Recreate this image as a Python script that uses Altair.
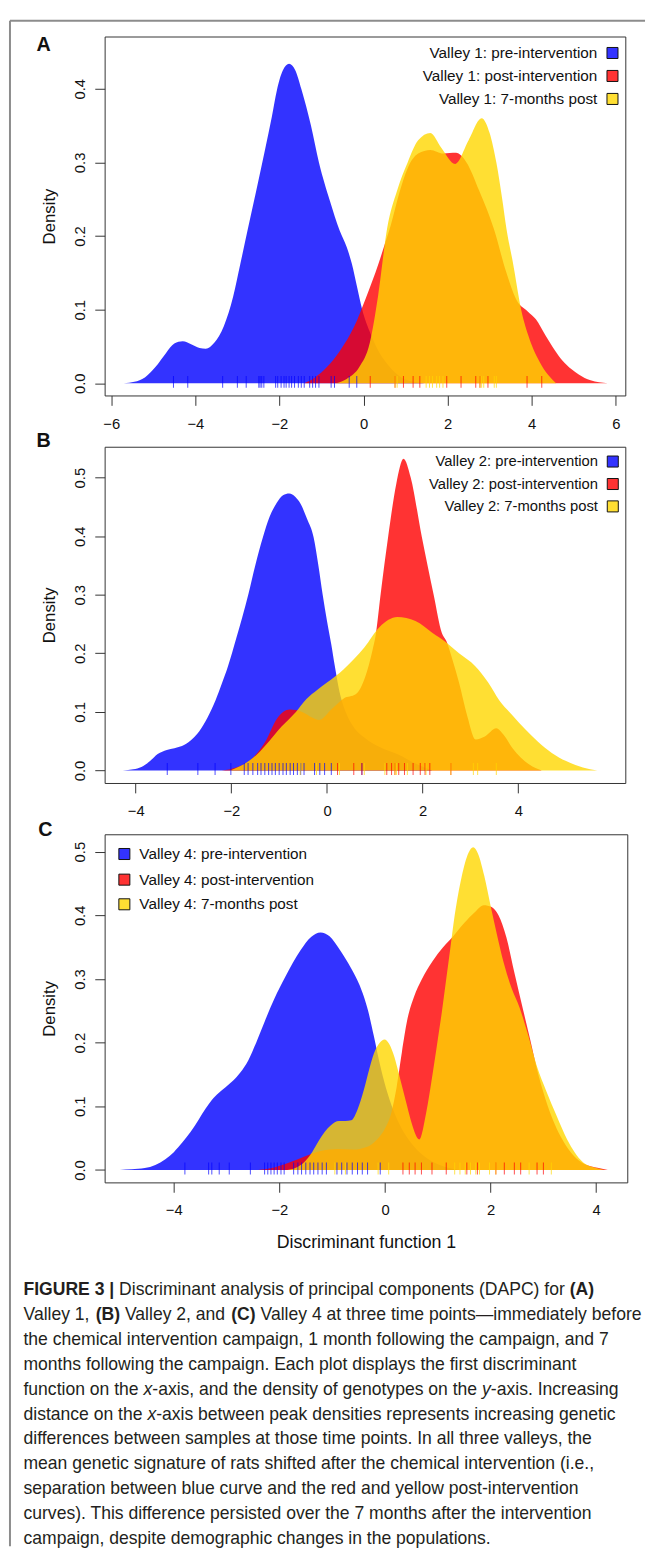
import altair as alt
import pandas as pd

# ---------------- Panel A : Valley 1 ----------------
A_BLUE_X = [-5.70, -5.45, -5.20, -4.95, -4.70, -4.50, -4.30, -4.10, -3.90, -3.75, -3.55, -3.32, -3.10,
            -2.93, -2.75, -2.55, -2.34, -2.18, -2.06, -1.92, -1.77, -1.62, -1.48, -1.25, -1.06, -0.80,
            -0.57, -0.40, -0.28, -0.15, -0.03, 0.15, 0.30, 0.60, 0.90, 1.20, 1.45]
A_BLUE_Y = [0.000, 0.002, 0.008, 0.022, 0.041, 0.054, 0.057, 0.053, 0.048, 0.047, 0.055, 0.078, 0.118,
            0.162, 0.210, 0.262, 0.318, 0.362, 0.398, 0.425, 0.434, 0.425, 0.400, 0.350, 0.300, 0.248,
            0.208, 0.185, 0.163, 0.130, 0.100, 0.070, 0.050, 0.024, 0.008, 0.002, 0.000]
A_RED_X = [-1.41, -1.15, -0.87, -0.55, -0.23, 0.05, 0.36, 0.50, 0.65, 0.85, 1.05, 1.30, 1.59, 1.90,
           2.20, 2.45, 2.75, 3.10, 3.40, 3.65, 3.90, 4.10, 4.33, 4.55, 4.73, 4.95, 5.12, 5.40, 5.81]
A_RED_Y = [0.000, 0.008, 0.022, 0.045, 0.076, 0.115, 0.163, 0.188, 0.215, 0.258, 0.292, 0.312, 0.317,
           0.312, 0.313, 0.300, 0.262, 0.210, 0.150, 0.112, 0.098, 0.087, 0.065, 0.045, 0.031, 0.019,
           0.012, 0.004, 0.000]
A_YEL_X = [-0.67, -0.40, -0.10, 0.15, 0.35, 0.56, 0.80, 1.05, 1.30, 1.59, 1.85, 2.18, 2.50, 2.81, 3.00,
           3.16, 3.30, 3.40, 3.55, 3.75, 3.95, 4.20, 4.58]
A_YEL_Y = [0.000, 0.006, 0.022, 0.055, 0.120, 0.210, 0.262, 0.300, 0.330, 0.340, 0.320, 0.298, 0.330,
           0.360, 0.340, 0.300, 0.250, 0.210, 0.165, 0.100, 0.060, 0.028, 0.000]
A_RUG_BLUE = [-4.52, -4.18, -3.35, -3.00, -2.79, -2.49, -2.46, -2.42, -2.37, -2.09, -2.04, -1.96, -1.89,
              -1.84, -1.77, -1.71, -1.64, -1.55, -1.48, -1.41, -1.28, -1.21, -1.14, -1.06, -0.77, -0.69,
              -0.34, -0.16]
A_RUG_RED = [0.16, 0.75, 0.95, 1.18, 1.34, 1.98, 2.32, 2.67, 2.77, 2.96, 3.89, 4.24]
A_RUG_YEL = [0.75, 0.80, 1.49, 1.57, 1.64, 1.74, 1.81, 1.89, 2.77, 2.81, 2.86, 3.11, 3.16]
A_LABELS = ["Valley 1: pre-intervention", "Valley 1: post-intervention", "Valley 1: 7-months post"]
A_XTICKS = [-6, -4, -2, 0, 2, 4, 6]
A_YTICKS = [0.0, 0.1, 0.2, 0.3, 0.4]

# ---------------- Panel B : Valley 2 ----------------
B_BLUE_X = [-4.27, -4.05, -3.88, -3.70, -3.54, -3.35, -3.19, -2.98, -2.80, -2.67, -2.50, -2.33, -2.20,
            -2.07, -1.90, -1.77, -1.64, -1.50, -1.34, -1.20, -1.05, -0.92, -0.79, -0.66, -0.55, -0.42,
            -0.28, -0.18, -0.09, 0.00, 0.09, 0.16, 0.26, 0.40, 0.55, 0.80, 1.10, 1.50, 1.85, 2.20]
B_BLUE_Y = [0.000, 0.002, 0.006, 0.016, 0.028, 0.035, 0.038, 0.044, 0.055, 0.067, 0.090, 0.120, 0.148,
            0.178, 0.225, 0.262, 0.302, 0.350, 0.398, 0.433, 0.457, 0.470, 0.473, 0.467, 0.455, 0.430,
            0.398, 0.350, 0.300, 0.255, 0.215, 0.180, 0.135, 0.098, 0.075, 0.055, 0.040, 0.027, 0.012,
            0.000]
B_RED_X = [-2.20, -1.90, -1.60, -1.29, -1.04, -0.78, -0.52, -0.30, -0.17, 0.10, 0.35, 0.60, 0.80, 0.95,
           1.02, 1.12, 1.28, 1.45, 1.60, 1.75, 1.98, 2.23, 2.40, 2.50, 2.62, 2.76, 2.93, 3.11, 3.30,
           3.54, 3.70, 3.88, 4.05, 4.23, 4.49]
B_RED_Y = [0.000, 0.005, 0.018, 0.049, 0.089, 0.104, 0.100, 0.090, 0.086, 0.105, 0.123, 0.130, 0.160,
           0.205, 0.232, 0.300, 0.400, 0.490, 0.532, 0.500, 0.400, 0.300, 0.235, 0.220, 0.190, 0.150,
           0.094, 0.053, 0.058, 0.072, 0.060, 0.038, 0.022, 0.010, 0.000]
B_YEL_X = [-2.03, -1.75, -1.47, -1.21, -0.95, -0.65, -0.43, -0.20, 0.00, 0.35, 0.78, 1.10, 1.47, 1.85,
           2.20, 2.50, 2.76, 3.10, 3.37, 3.60, 3.88, 4.15, 4.40, 4.70, 5.00, 5.35, 5.65]
B_YEL_Y = [0.000, 0.010, 0.027, 0.050, 0.075, 0.100, 0.122, 0.138, 0.150, 0.173, 0.210, 0.245, 0.262,
           0.255, 0.235, 0.218, 0.200, 0.178, 0.150, 0.120, 0.094, 0.070, 0.050, 0.030, 0.016, 0.005,
           0.000]
B_RUG_BLUE = [-3.34, -2.70, -2.34, -2.01, -1.73, -1.65, -1.55, -1.45, -1.38, -1.30, -1.22, -1.15, -1.08,
              -1.00, -0.92, -0.85, -0.77, -0.70, -0.62, -0.55, -0.48, -0.26, -0.15, -0.05, 0.09, 0.73]
B_RUG_RED = [0.22, 0.56, 0.73, 1.25, 1.35, 1.42, 1.50, 1.62, 1.80, 1.95, 2.05, 2.15, 2.59]
B_RUG_YEL = [-0.56, -0.22, 0.26, 0.78, 1.21, 1.42, 1.45, 1.68, 2.07, 2.59, 3.06, 3.15, 3.54]
B_LABELS = ["Valley 2: pre-intervention", "Valley 2: post-intervention", "Valley 2: 7-months post"]
B_XTICKS = [-4, -2, 0, 2, 4]
B_YTICKS = [0.0, 0.1, 0.2, 0.3, 0.4, 0.5]

# ---------------- Panel C : Valley 4 ----------------
C_BLUE_X = [-5.02, -4.80, -4.55, -4.35, -4.16, -4.00, -3.84, -3.68, -3.53, -3.40, -3.28, -3.15, -3.02,
            -2.88, -2.74, -2.59, -2.44, -2.28, -2.10, -1.89, -1.60, -1.40, -1.22, -1.05, -0.85, -0.65,
            -0.48, -0.32, -0.21, -0.08, 0.05, 0.20, 0.35, 0.55, 0.80, 1.10, 1.40]
C_BLUE_Y = [0.000, 0.001, 0.003, 0.008, 0.017, 0.028, 0.043, 0.060, 0.079, 0.096, 0.110, 0.121, 0.130,
            0.140, 0.153, 0.172, 0.200, 0.233, 0.268, 0.303, 0.345, 0.366, 0.373, 0.367, 0.345, 0.318,
            0.290, 0.250, 0.210, 0.160, 0.120, 0.085, 0.060, 0.037, 0.018, 0.006, 0.000]
C_RED_X = [-2.40, -2.10, -1.80, -1.50, -1.20, -0.90, -0.60, -0.35, -0.15, 0.00, 0.12, 0.22, 0.32, 0.42,
           0.55, 0.70, 0.90, 1.10, 1.30, 1.50, 1.70, 1.87, 2.02, 2.15, 2.30, 2.45, 2.62, 2.75, 2.88,
           3.00, 3.15, 3.43, 3.74, 4.05, 4.22]
C_RED_Y = [0.000, 0.004, 0.012, 0.022, 0.030, 0.033, 0.032, 0.036, 0.048, 0.065, 0.090, 0.130, 0.185,
           0.235, 0.272, 0.300, 0.328, 0.350, 0.368, 0.388, 0.405, 0.416, 0.413, 0.400, 0.365, 0.310,
           0.250, 0.205, 0.158, 0.122, 0.085, 0.038, 0.011, 0.003, 0.000]
C_YEL_X = [-1.85, -1.65, -1.50, -1.38, -1.26, -1.14, -1.03, -0.87, -0.75, -0.64, -0.52, -0.40, -0.30,
           -0.21, -0.10, -0.01, 0.08, 0.18, 0.26, 0.34, 0.42, 0.50, 0.65, 0.78, 0.90, 1.00, 1.08, 1.16,
           1.24, 1.32, 1.45, 1.58, 1.67, 1.76, 1.88, 2.00, 2.12, 2.25, 2.40, 2.55, 2.70, 2.88, 3.05,
           3.25, 3.45, 3.74, 4.00, 4.15]
C_YEL_Y = [0.000, 0.005, 0.015, 0.028, 0.045, 0.060, 0.070, 0.077, 0.077, 0.078, 0.095, 0.126, 0.158,
           0.183, 0.200, 0.205, 0.198, 0.177, 0.152, 0.126, 0.100, 0.075, 0.048, 0.090, 0.150, 0.205,
           0.250, 0.300, 0.350, 0.400, 0.460, 0.498, 0.507, 0.497, 0.462, 0.415, 0.370, 0.325, 0.285,
           0.255, 0.215, 0.162, 0.125, 0.085, 0.048, 0.013, 0.003, 0.000]
C_RUG_BLUE = [-3.79, -3.34, -3.28, -3.14, -2.95, -2.55, -2.28, -2.22, -2.16, -2.10, -2.04, -1.97, -1.91,
              -1.73, -1.65, -1.58, -1.50, -1.42, -1.35, -1.27, -1.19, -1.11, -0.91, -0.82, -0.72, -0.62,
              -0.52, -0.43, -0.33, -0.09]
C_RUG_RED = [0.34, 0.46, 0.57, 0.69, 0.89, 1.16, 1.55, 1.75, 2.10, 2.26, 2.45, 2.57, 2.88, 3.00]
C_RUG_YEL = [-0.95, -0.75, -0.13, 0.07, 1.32, 1.42, 1.52, 1.62, 1.72, 1.79, 1.98, 2.10, 2.73, 3.15]
C_LABELS = ["Valley 4: pre-intervention", "Valley 4: post-intervention", "Valley 4: 7-months post"]
C_XTICKS = [-4, -2, 0, 2, 4]
C_YTICKS = [0.0, 0.1, 0.2, 0.3, 0.4, 0.5]

X_TITLE = "Discriminant function 1"
Y_TITLE = "Density"

CAPTION = [
    [("FIGURE 3 |", "b"), (" Discriminant analysis of principal components (DAPC) for ", "r"), ("(A)", "b")],
    [("Valley 1, ", "r"), ("(B)", "b"), (" Valley 2, and ", "r"), ("(C)", "b"),
     (" Valley 4 at three time points\u2014immediately before", "r")],
    [("the chemical intervention campaign, 1 month following the campaign, and 7", "r")],
    [("months following the campaign. Each plot displays the first discriminant", "r")],
    [("function on the ", "r"), ("x", "i"), ("-axis, and the density of genotypes on the ", "r"), ("y", "i"),
     ("-axis. Increasing", "r")],
    [("distance on the ", "r"), ("x", "i"), ("-axis between peak densities represents increasing genetic", "r")],
    [("differences between samples at those time points. In all three valleys, the", "r")],
    [("mean genetic signature of rats shifted after the chemical intervention (i.e.,", "r")],
    [("separation between blue curve and the red and yellow post-intervention", "r")],
    [("curves). This difference persisted over the 7 months after the intervention", "r")],
    [("campaign, despite demographic changes in the populations.", "r")],
]

# ---------------- styling ----------------
FONT = "Liberation Sans"
SERIES = ["pre", "post", "seven"]
COLORS = ["#0000FF", "#FF0000", "#FFD700"]
INK = "#111111"

REG = {' ': 278, ',': 278, '.': 278, ':': 278, ';': 278, '(': 333, ')': 333, '-': 333, '|': 260,
       '\u2014': 1000, '0': 556, '1': 556, '2': 556, '3': 556, '4': 556, '5': 556, '6': 556, '7': 556,
       '8': 556, '9': 556, 'A': 667, 'B': 667, 'C': 722, 'D': 722, 'E': 667, 'F': 611, 'G': 778,
       'I': 278, 'P': 667, 'R': 722, 'T': 611, 'U': 722, 'V': 667,
       'a': 556, 'b': 556, 'c': 500, 'd': 556, 'e': 556, 'f': 278, 'g': 556, 'h': 556, 'i': 222,
       'j': 222, 'k': 500, 'l': 222, 'm': 833, 'n': 556, 'o': 556, 'p': 556, 'q': 556, 'r': 333,
       's': 500, 't': 278, 'u': 556, 'v': 500, 'w': 722, 'x': 500, 'y': 500, 'z': 500}
BOLD = {' ': 278, '(': 333, ')': 333, '|': 280, '3': 556, 'A': 722, 'B': 722, 'C': 722, 'E': 667,
        'F': 611, 'G': 778, 'I': 278, 'R': 722, 'U': 722}


def text_w(s, style, fs):
    table = BOLD if style == "b" else REG
    return sum(table.get(ch, 556) for ch in s) * fs / 1000.0


ONE = pd.DataFrame({"k": [0]})


def fixed_text(txt, x, y, **kw):
    return alt.Chart(ONE).mark_text(text=txt, font=FONT, **kw).encode(x=alt.value(x), y=alt.value(y))


def make_panel(curves, rugs, xdom, xticks, ydom, yticks, w, h, labels, legend, letter, letter_xy,
               xtitle=None, extra=None):
    xaxis = alt.Axis(values=xticks, title=xtitle, domain=False, grid=False, tickSize=10, tickColor="#333",
                     labelFontSize=15, labelPadding=11, labelFlush=False,
                     labelExpr="replace(datum.label, '-', '\u2212')",
                     titleFontSize=18, titleFontWeight="normal", titlePadding=16)
    yaxis = alt.Axis(values=yticks, format=".1f", title=Y_TITLE, domain=False, grid=False, tickSize=10,
                     tickColor="#333", labelFontSize=15, labelAngle=270, labelAlign="center",
                     labelBaseline="bottom", labelPadding=7, labelFlush=False,
                     titleFontSize=17, titleFontWeight="normal", titlePadding=15)
    xenc = alt.X("x:Q", scale=alt.Scale(domain=xdom, nice=False, zero=False), axis=xaxis)
    yenc = alt.Y("y:Q", scale=alt.Scale(domain=ydom, nice=False, zero=False), axis=yaxis)

    layers = []
    for (xs, ys), col in zip(curves, COLORS):
        layers.append(
            alt.Chart(pd.DataFrame({"x": xs, "y": ys}))
            .mark_area(interpolate="monotone", color=col, opacity=0.8)
            .encode(x=xenc, y=yenc)
        )
    rug_rows = []
    for vals, s in zip(rugs, SERIES):
        rug_rows += [{"x": v, "series": s} for v in vals]
    layers.append(
        alt.Chart(pd.DataFrame(rug_rows))
        .mark_tick(orient="vertical", size=12, thickness=1, yOffset=-1.5)
        .encode(x=xenc, y=alt.datum(0),
                color=alt.Color("series:N", scale=alt.Scale(domain=SERIES, range=COLORS), legend=None))
    )
    # legend (R style)
    side, sq_x, tx, rows, fs = legend
    for lab, col, ry in zip(labels, COLORS, rows):
        layers.append(
            alt.Chart(ONE).mark_square(size=125, fill=col, fillOpacity=0.8, stroke=INK, strokeWidth=1,
                                        opacity=1)
            .encode(x=alt.value(sq_x), y=alt.value(ry))
        )
        layers.append(fixed_text(lab, tx, ry, fontSize=fs, align=side, baseline="middle", color=INK))
    # panel letter
    layers.append(fixed_text(letter, letter_xy[0], letter_xy[1], fontSize=20, fontWeight="bold",
                             align="left", baseline="alphabetic", color=INK))
    if extra:
        layers += extra
    return alt.layer(*layers).properties(width=w, height=h)


# ---- frame of the figure (drawn from panel A's origin) ----
frame = [
    alt.Chart(ONE).mark_rule(color="#8c8c8c", strokeWidth=2)
    .encode(x=alt.value(-96), y=alt.value(-16), y2=alt.value(1531)),
    alt.Chart(ONE).mark_rule(color="#8c8c8c", strokeWidth=2)
    .encode(x=alt.value(-96), x2=alt.value(548), y=alt.value(-16)),
]

# ---- caption (drawn from panel C's origin) ----
CAP_FS = 17.8
CAP_X0 = -82.3
CAP_Y0 = 467.7
CAP_DY = 25.17
caption_layers = []
for i, segs in enumerate(CAPTION):
    cx = CAP_X0
    for txt, st in segs:
        lead = len(txt) - len(txt.lstrip(" "))
        core = txt.strip(" ")
        kw = {}
        if st == "b":
            kw["fontWeight"] = "bold"
        if st == "i":
            kw["fontStyle"] = "italic"
        caption_layers.append(
            fixed_text(core, cx + text_w(" " * lead, "r", CAP_FS), CAP_Y0 + i * CAP_DY, fontSize=CAP_FS,
                       align="left", baseline="alphabetic", color="#231f20", **kw)
        )
        cx += text_w(txt, st, CAP_FS)

panelA = make_panel(
    [(A_BLUE_X, A_BLUE_Y), (A_RED_X, A_RED_Y), (A_YEL_X, A_YEL_Y)],
    [A_RUG_BLUE, A_RUG_RED, A_RUG_YEL],
    [-6.157, 6.227], A_XTICKS, [-0.0165, 0.471], A_YTICKS, 528, 364,
    A_LABELS, ("right", 515, 499.6, [16.7, 40.0, 63.3], 15.5), "A", (-69, 15),
    extra=frame,
)
panelB = make_panel(
    [(B_BLUE_X, B_BLUE_Y), (B_RED_X, B_RED_Y), (B_YEL_X, B_YEL_Y)],
    [B_RUG_BLUE, B_RUG_RED, B_RUG_YEL],
    [-4.649, 6.237], B_XTICKS, [-0.0214, 0.5527], B_YTICKS, 528, 341,
    B_LABELS, ("right", 515.3, 500.3, [15.0, 37.8, 60.5], 15), "B", (-69, 0.7),
)
panelC = make_panel(
    [(C_BLUE_X, C_BLUE_Y), (C_RED_X, C_RED_Y), (C_YEL_X, C_YEL_Y)],
    [C_RUG_BLUE, C_RUG_RED, C_RUG_YEL],
    [-5.31, 4.589], C_XTICKS, [-0.0195, 0.5273], C_YTICKS, 530, 353,
    C_LABELS, ("left", 20, 35.2, [20.0, 46.0, 71.0], 15.5), "C", (-67.3, 1.7),
    xtitle=X_TITLE, extra=caption_layers,
)

chart = (
    alt.vconcat(panelA, panelB, panelC, spacing=52, bounds="flush")
    .properties(padding=0)
    .configure_view(stroke="#333", strokeWidth=1)
    .configure_axis(labelFont=FONT, titleFont=FONT, labelColor=INK, titleColor=INK)
)

chart.save("out.html", embed_options={"renderer": "svg", "actions": False})
